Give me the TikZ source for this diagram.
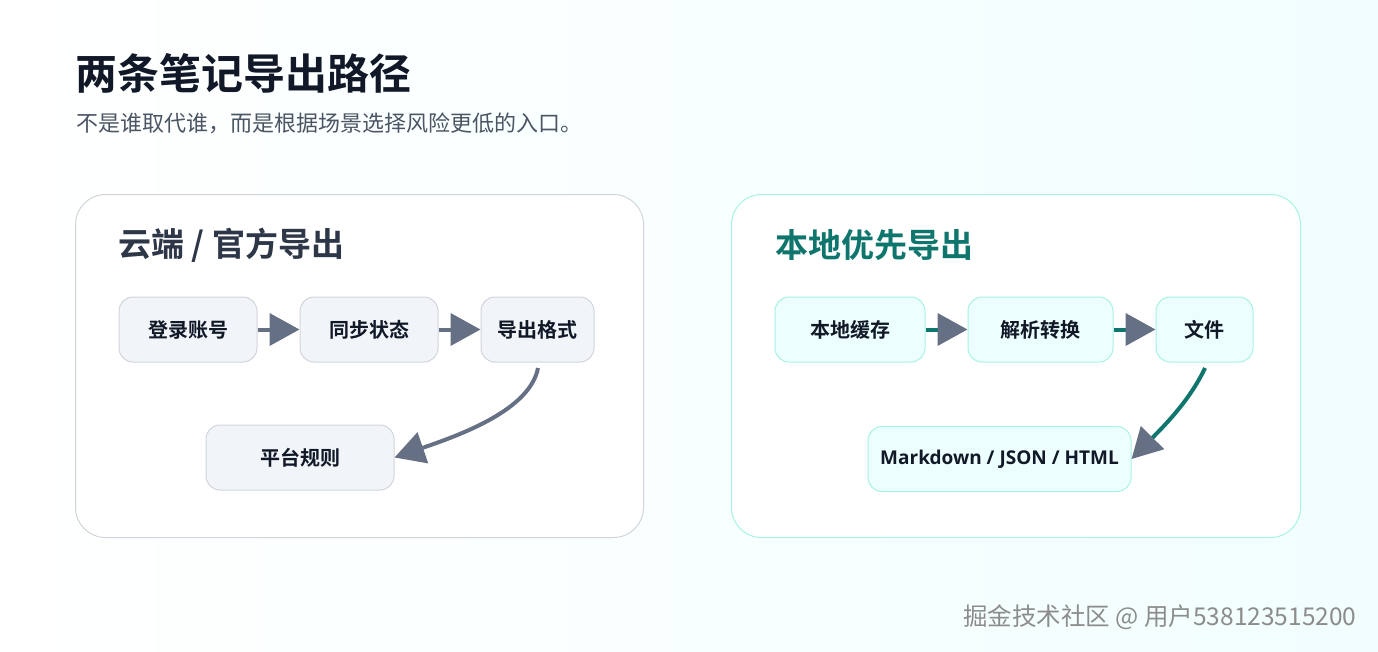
\documentclass[tikz,border=0pt]{standalone}
\usepackage{fontspec}
\setmainfont{Noto Sans CJK SC}
\newfontfamily\cjkb{Noto Sans CJK SC Bold}
\newfontfamily\osb{Open Sans Bold}
\usetikzlibrary{arrows.meta}
\definecolor{ink}{HTML}{111827}
\definecolor{sub}{HTML}{4B5563}
\definecolor{dark}{HTML}{2D3748}
\definecolor{teal}{HTML}{0F766E}
\definecolor{arr}{HTML}{667085}
\definecolor{gbox}{HTML}{F1F4F8}
\definecolor{gbd}{HTML}{D1D5DB}
\definecolor{tbox}{HTML}{ECFEFE}
\definecolor{tbd}{HTML}{A7F3E4}
\tikzset{
 panel/.style={draw, line width=1pt, rounded corners=30pt, fill=white},
 gnode/.style={draw=gbd, fill=gbox, line width=1pt, rounded corners=14pt, font=\cjkb\fontsize{20}{24}\selectfont, text=ink, inner sep=0pt},
 tnode/.style={draw=tbd, fill=tbox, line width=1pt, rounded corners=14pt, font=\cjkb\fontsize{20}{24}\selectfont, text=ink, inner sep=0pt},
 garrow/.style={draw=arr, line width=4pt, -{Triangle[length=30pt,width=32pt,fill=arr,color=arr]}},
 tarrow/.style={draw=teal, line width=4pt, -{Triangle[length=30pt,width=32pt,fill=arr,color=arr]}},
}
\begin{document}
\begin{tikzpicture}[x=1pt,y=-1pt]
\shade[left color=white, right color=tbox!70] (0,0) rectangle (1378,651);
\node[anchor=west, font=\cjkb\fontsize{42}{48}\selectfont, text=ink] (title) at (72,73) {两条笔记导出路径};
\node[anchor=west, font=\fontsize{22}{26}\selectfont, text=sub] (subtitle) at (73,123) {不是谁取代谁，而是根据场景选择风险更低的入口。};
\node[panel, draw=gbd, minimum width=568pt, minimum height=343pt, anchor=north west] (lp) at (75,194) {};
\node[panel, draw=tbd, minimum width=569pt, minimum height=343pt, anchor=north west] (rp) at (731,194) {};
\node[anchor=west, font=\cjkb\fontsize{33}{38}\selectfont, text=dark] (lt) at (115,245) {云端 / 官方导出};
\node[anchor=west, font=\cjkb\fontsize{33}{38}\selectfont, text=teal] (rt) at (772,245) {本地优先导出};
% left nodes
\node[gnode, minimum width=138pt, minimum height=65pt] (a1) at (188,329.5) {登录账号};
\node[gnode, minimum width=138pt, minimum height=65pt] (a2) at (369,329.5) {同步状态};
\node[gnode, minimum width=113pt, minimum height=65pt] (a3) at (537.5,329.5) {导出格式};
\node[gnode, minimum width=188pt, minimum height=65pt] (a4) at (300,457.5) {平台规则};
\draw[garrow] (a1) -- (a2);
\draw[garrow] (a2) -- (a3);
\draw[garrow] (538,368) .. controls (530,410) and (460,435) .. (a4.east);
% right nodes
\node[tnode, minimum width=150pt, minimum height=65pt] (b1) at (850,329.5) {本地缓存};
\node[tnode, minimum width=145pt, minimum height=65pt] (b2) at (1040.5,329.5) {解析转换};
\node[tnode, minimum width=97pt, minimum height=65pt] (b3) at (1204.5,329.5) {文件};
\node[tnode, minimum width=263pt, minimum height=65pt, font=\osb\fontsize{19}{22}\selectfont] (b4) at (999.5,459) {Markdown / JSON / HTML};
\draw[tarrow] (b1) -- (b2);
\draw[tarrow] (b2) -- (b3);
\draw[tarrow] (1205,368) .. controls (1190,400) and (1165,425) .. (b4.east);
\node[anchor=east, font=\fontsize{24.5}{28}\selectfont, text=gray!90] (wm) at (1360,617) {掘金技术社区 @ 用户538123515200};
\end{tikzpicture}
\end{document}
